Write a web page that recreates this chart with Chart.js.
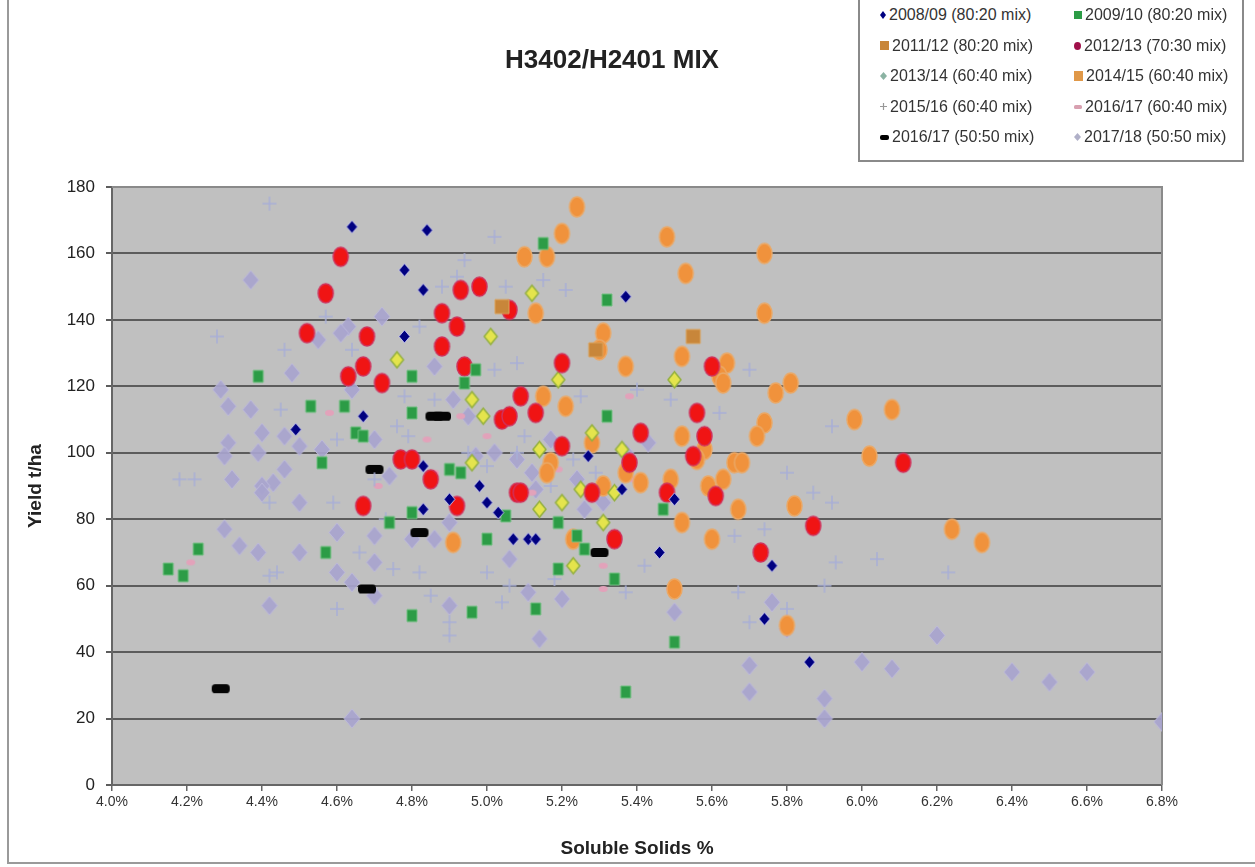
<!DOCTYPE html>
<html>
<head>
<meta charset="utf-8">
<script src="https://cdn.jsdelivr.net/npm/chart.js@4.4.1/dist/chart.umd.min.js"></script>
<style>
  html, body { margin: 0; padding: 0; background: #fff; }
  #wrap { position: relative; width: 1255px; height: 867px; font-family: "Liberation Sans", Arial, sans-serif; overflow: hidden; }
  #frame { position: absolute; left: 7px; top: -2px; width: 1260px; height: 866px; border-left: 2px solid #9a9a9a; border-bottom: 2px solid #9a9a9a; box-sizing: border-box; }
  #title { position: absolute; left: 412px; top: 44px; width: 400px; text-align: center; font-weight: bold; font-size: 26px; color: #222; }
  #legend { position: absolute; left: 858px; top: -2px; width: 386px; height: 164px; border: 2px solid #8a8a8a; background: #fff;
            box-sizing: border-box; display: grid; grid-template-columns: 194px 188px; grid-auto-rows: 30.5px; }
  .item { display: flex; align-items: center; padding-left: 18px; font-size: 16px; color: #333; white-space: nowrap; }
  .item canvas { margin-right: 1px; }
</style>
</head>
<body>
<div id="wrap">
  <div id="frame"></div>
  <canvas id="chart" width="1255" height="867" style="position:absolute;left:0;top:0"></canvas>
  <div id="title">H3402/H2401 MIX</div>
  <div id="legend"></div>
</div>
<script>
// series names (legend order)
const seriesNames = [
  '2008/09 (80:20 mix)', '2009/10 (80:20 mix)', '2011/12 (80:20 mix)', '2012/13 (70:30 mix)',
  '2013/14 (60:40 mix)', '2014/15 (60:40 mix)', '2015/16 (60:40 mix)', '2016/17 (60:40 mix)',
  '2016/17 (50:50 mix)', '2017/18 (50:50 mix)'
];

// [soluble solids %, yield t/ha]
const s0809 = [[4.64,168],[4.84,167],[4.78,155],[4.83,149],[4.78,135],[4.67,111],[4.49,107],[4.83,96],[4.83,83],[4.90,86],
  [4.98,90],[5.00,85],[5.03,82],[5.07,74],[5.11,74],[5.13,74],[5.27,99],[5.37,147],[5.36,89],[5.46,70],[5.50,86],[5.74,50],
  [5.76,66],[5.86,37]];
const s0910 = [[4.39,123],[4.53,114],[4.62,114],[4.80,123],[4.80,112],[4.65,106],[4.67,105],[4.56,97],[4.90,95],[4.93,94],
  [4.97,125],[4.94,121],[4.23,71],[4.15,65],[4.19,63],[4.57,70],[4.80,51],[4.96,52],[4.74,79],[4.80,82],[5.00,74],[5.05,81],
  [5.19,79],[5.24,75],[5.26,71],[5.19,65],[5.34,62],[5.13,53],[5.47,83],[5.50,43],[5.37,28],[5.15,163],[5.32,146],[5.32,111]];
const s1112 = [[5.04,144],[5.55,135],[5.29,131]];
const s1213 = [[4.61,159],[4.57,148],[4.52,136],[4.68,135],[4.88,142],[4.92,138],[4.93,149],[4.98,150],[4.88,132],[4.63,123],
  [4.67,126],[4.72,121],[4.94,126],[4.77,98],[4.80,98],[4.85,92],[4.67,84],[4.92,84],[5.06,143],[5.20,127],[5.60,126],[5.09,117],
  [5.13,112],[5.04,110],[5.06,111],[5.20,102],[5.41,106],[5.56,112],[5.58,105],[5.55,99],[5.38,97],[5.08,88],[5.09,88],[5.28,88],
  [5.34,74],[5.48,88],[5.61,87],[5.73,70],[5.87,78],[6.11,97]];
const s1314 = [[5.12,148],[5.01,135],[5.50,122],[5.19,122],[4.96,116],[4.99,111],[5.14,101],[5.28,106],[4.96,97],[5.14,83],
  [5.20,85],[5.25,89],[5.34,88],[5.31,79],[5.23,66],[5.36,101],[4.76,128]];
const s1415 = [[5.24,174],[5.20,166],[5.48,165],[5.10,159],[5.16,159],[5.74,160],[5.53,154],[5.74,142],[5.13,142],[5.31,136],
  [5.30,131],[5.52,129],[5.37,126],[5.64,127],[5.62,123],[5.63,121],[5.81,121],[5.77,118],[5.15,117],[5.21,114],[5.74,109],
  [5.72,105],[5.52,105],[5.28,103],[5.17,97],[5.58,101],[5.56,98],[5.66,97],[5.68,97],[5.41,91],[5.49,92],[5.37,94],[5.63,92],
  [5.59,90],[5.52,79],[5.67,83],[5.82,84],[5.60,74],[5.23,74],[4.91,73],[5.31,90],[5.16,94],[5.80,48],[5.50,59],[6.08,113],
  [5.98,110],[6.02,99],[6.24,77],[6.32,73]];
const s1516 = [[4.42,175],[4.28,135],[4.46,131],[4.18,92],[4.22,92],[4.45,113],[4.57,141],[4.60,104],[4.64,131],[4.76,108],
  [4.79,105],[4.86,116],[4.82,138],[4.88,150],[4.92,153],[4.94,158],[4.78,117],[4.42,63],[4.44,64],[4.42,85],[4.60,53],[4.75,65],
  [4.82,64],[4.85,57],[4.90,49],[4.90,45],[4.59,85],[5.02,165],[5.05,150],[5.15,152],[5.21,149],[5.08,127],[5.02,125],[5.70,125],
  [5.49,116],[5.62,112],[5.25,117],[5.80,94],[5.08,100],[5.29,94],[5.40,119],[5.00,64],[5.04,55],[5.37,58],[5.42,66],[5.67,58],
  [5.70,49],[5.66,75],[5.74,77],[5.80,53],[5.87,88],[5.92,85],[5.93,67],[5.90,60],[6.04,68],[6.23,64],[5.92,108],[4.95,100],
  [5.00,96],[5.10,105],[5.17,90],[5.23,98],[4.70,92],[4.73,80],[4.66,70],[5.06,60],[5.18,62]];
const s1617a = [[4.21,67],[5.31,66],[5.31,59],[5.19,95],[5.00,105],[4.84,104],[4.93,111],[4.71,90],[5.38,117],[4.58,112],
  [5.12,88],[5.39,92],[5.49,59],[5.13,111],[4.86,94]];
const s1617b = [[4.70,95],[4.86,111],[4.88,111],[4.68,59],[4.82,76],[4.29,29],[5.30,70]];
const s1718 = [[4.37,152],[4.72,141],[4.63,138],[4.61,136],[4.55,134],[4.48,124],[4.86,126],[4.29,119],[4.31,114],[4.37,113],
  [4.31,103],[4.30,99],[4.40,106],[4.46,105],[4.50,102],[4.56,101],[4.39,100],[4.70,104],[4.91,116],[4.64,119],[4.32,92],[4.46,95],
  [4.43,91],[4.40,90],[4.40,88],[4.50,85],[4.30,77],[4.34,72],[4.39,70],[4.50,70],[4.60,76],[4.60,64],[4.64,61],[4.70,75],
  [4.70,67],[4.70,57],[4.80,74],[4.86,74],[4.90,79],[4.42,54],[4.64,20],[4.90,54],[4.74,93],[5.50,59],[5.50,52],[5.14,44],
  [5.20,56],[5.11,58],[5.06,68],[5.70,36],[5.70,28],[5.76,55],[5.80,47],[5.26,83],[5.24,92],[6.20,45],[6.00,37],[6.08,35],
  [6.40,34],[6.50,31],[6.60,34],[6.80,19],[5.90,26],[5.90,20],[5.02,100],[4.97,99],[5.08,98],[5.12,94],[5.17,104],[5.37,100],
  [5.43,103],[5.31,85],[4.95,111],[5.13,89]];

const seriesData = [s0809, s0910, s1112, s1213, s1314, s1415, s1516, s1617a, s1617b, s1718];

// marker looks: shape, w, h, fill, stroke, lineWidth
const markerStyles = [
  ['diamond', 11, 13, '#000080', 'rgba(200,200,245,0.9)', 1],
  ['square', 10, 12, '#2c9c46', '#70c080', 1],
  ['square', 14, 14, '#c8863a', '#dba35c', 1],
  ['ellipse', 15, 19, '#f01414', '#d0305a', 1.5],
  ['diamond', 13, 16, '#e4e44c', '#94b040', 1.5],
  ['ellipse', 15, 20, '#f0923c', '#eaa866', 1.5],
  ['plus', 14, 14, null, '#a8aed6', 1.5],
  ['ellipse', 9, 6, '#e2a2ba', null, 0],
  ['bar', 18, 9, '#050505', null, 0],
  ['diamond', 16, 19, 'rgba(168,164,206,0.92)', 'rgba(190,186,220,0.9)', 1]
];
const legendStyles = [
  ['diamond', 6, 8, '#000080', null, 0],
  ['square', 8, 8, '#2c9c46', null, 0],
  ['square', 9, 9, '#c8863a', null, 0],
  ['ellipse', 7, 8, '#a0104a', null, 0],
  ['diamond', 7, 8, '#8bb3a3', null, 0],
  ['square', 9, 10, '#e09848', null, 0],
  ['plus', 7, 7, null, '#999', 1.2],
  ['bar', 8, 4, '#d8a0b0', null, 0],
  ['bar', 9, 5, '#000', null, 0],
  ['diamond', 7, 8, '#b0b0c8', null, 0]
];

function makeMarker(shape, w, h, fill, stroke, lw) {
  const c = document.createElement('canvas');
  c.width = w + 4; c.height = h + 4;
  const g = c.getContext('2d');
  const cx = c.width / 2, cy = c.height / 2;
  g.beginPath();
  if (shape === 'diamond') {
    g.moveTo(cx, cy - h / 2); g.lineTo(cx + w / 2, cy); g.lineTo(cx, cy + h / 2); g.lineTo(cx - w / 2, cy); g.closePath();
  } else if (shape === 'square') {
    g.rect(cx - w / 2, cy - h / 2, w, h);
  } else if (shape === 'ellipse') {
    g.ellipse(cx, cy, w / 2, h / 2, 0, 0, Math.PI * 2);
  } else if (shape === 'plus') {
    g.moveTo(cx - w / 2, cy); g.lineTo(cx + w / 2, cy); g.moveTo(cx, cy - h / 2); g.lineTo(cx, cy + h / 2);
  } else if (shape === 'bar') {
    g.roundRect(cx - w / 2, cy - h / 2, w, h, h / 2.5);
  }
  if (fill) { g.fillStyle = fill; g.fill(); }
  if (stroke) { g.strokeStyle = stroke; g.lineWidth = lw; g.stroke(); }
  return c;
}

const datasets = seriesNames.map((name, i) => ({
  label: name,
  data: seriesData[i].map(p => ({ x: p[0], y: p[1] })),
  pointStyle: makeMarker(...markerStyles[i]),
  pointRadius: 5,
  pointHoverRadius: 5
}));

// plot background + frame
const plotFrame = {
  id: 'plotFrame',
  beforeDraw(chart) {
    const { ctx, chartArea: a } = chart;
    ctx.save();
    ctx.fillStyle = '#c0c0c0';
    ctx.fillRect(a.left, a.top, a.right - a.left, a.bottom - a.top);
    ctx.restore();
  },
  beforeDatasetsDraw(chart) {
    const { ctx, chartArea: a } = chart;
    ctx.save();
    ctx.strokeStyle = '#8a8a8a';
    ctx.lineWidth = 2;
    ctx.beginPath();
    ctx.moveTo(a.left, a.top); ctx.lineTo(a.right, a.top); ctx.lineTo(a.right, a.bottom);
    ctx.stroke();
    ctx.restore();
  }
};

const chart = new Chart(document.getElementById('chart'), {
  type: 'scatter',
  data: { datasets },
  plugins: [plotFrame],
  options: {
    responsive: false,
    animation: false,
    devicePixelRatio: 1,
    layout: { padding: { left: 0, right: 93, top: 187, bottom: 0 } },
    plugins: { legend: { display: false }, tooltip: { enabled: false } },
    scales: {
      x: {
        type: 'linear', min: 4.0, max: 6.8,
        afterFit: s => { s.height = 82; },
        ticks: { stepSize: 0.2, padding: 3, color: '#333', font: { size: 14, family: 'Liberation Sans' },
                 callback: v => v.toFixed(1) + '%' },
        grid: { drawOnChartArea: false, drawTicks: true, tickLength: 6, color: '#666', lineWidth: 1.5 },
        border: { color: '#666', width: 2 },
        title: { display: true, text: 'Soluble Solids %', color: '#222', padding: { top: 0, bottom: 7 },
                 font: { size: 19, weight: 'bold', family: 'Liberation Sans' } }
      },
      y: {
        min: 0, max: 180,
        afterFit: s => { s.width = 112; },
        ticks: { stepSize: 20, padding: 11, color: '#222', font: { size: 17, family: 'Liberation Sans' } },
        grid: { color: '#5c5c5c', lineWidth: 2, tickLength: 6 },
        border: { color: '#666', width: 2 },
        title: { display: true, text: 'Yield t/ha', color: '#222', padding: { top: 24, bottom: 0 },
                 font: { size: 19, weight: 'bold', family: 'Liberation Sans' } }
      }
    }
  }
});

// legend box built from the datasets
const legendEl = document.getElementById('legend');
chart.data.datasets.forEach((ds, i) => {
  const item = document.createElement('div');
  item.className = 'item';
  item.appendChild(makeMarker(...legendStyles[i]));
  const span = document.createElement('span');
  span.textContent = ds.label;
  item.appendChild(span);
  legendEl.appendChild(item);
});
</script>
</body>
</html>
